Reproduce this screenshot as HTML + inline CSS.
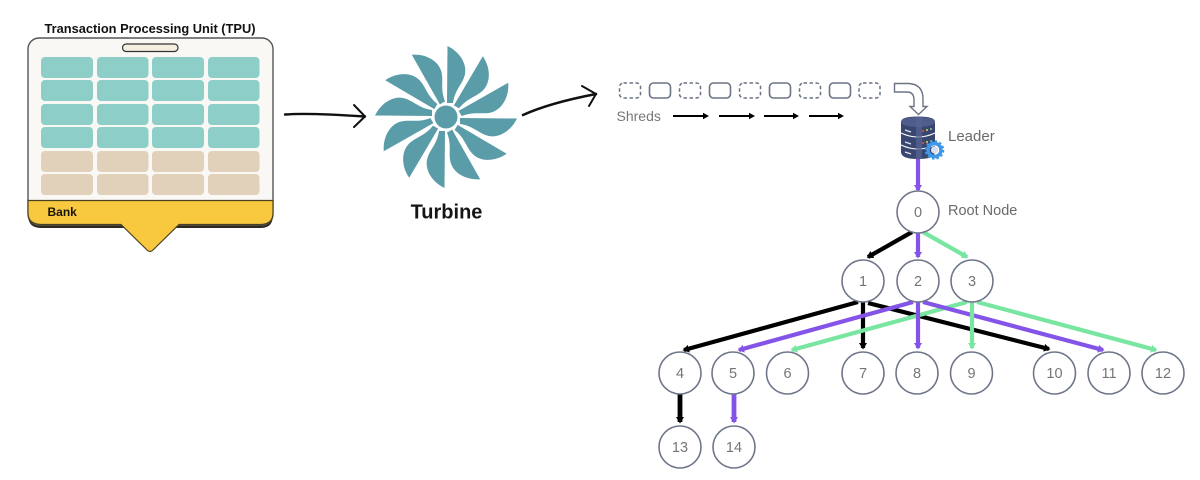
<!DOCTYPE html>
<html>
<head>
<meta charset="utf-8">
<style>
html,body{margin:0;padding:0;background:#fff;width:1200px;height:480px;overflow:hidden}
svg{display:block;filter:blur(.35px)}
text{font-family:"Liberation Sans",sans-serif}
.n{fill:#fff;stroke:#6f768a;stroke-width:1.6}
.t{fill:#757575;font-size:14.5px;text-anchor:middle}
.teal{fill:#8dcfc8}
.tan{fill:#e1d0ba}
.s1{fill:none;stroke:#6b7385;stroke-width:1.5;stroke-dasharray:3.5 2.5}
.s2{fill:none;stroke:#6b7385;stroke-width:1.6}
.bk{stroke:#000;fill:#000}
.pu{stroke:#8454e8;fill:#8454e8}
.gr{stroke:#78e6a0;fill:#78e6a0}
.e{stroke-width:4.200;fill:none}
</style>
</head>
<body>
<svg width="1200" height="480" viewBox="0 0 1200 480" xmlns="http://www.w3.org/2000/svg">
<defs>
<marker id="mb" markerUnits="userSpaceOnUse" markerWidth="10" markerHeight="10" refX="5" refY="4" orient="auto"><path d="M0,0 L6.500,4 L0,8 Z" fill="#000"/></marker>
<marker id="mp" markerUnits="userSpaceOnUse" markerWidth="10" markerHeight="10" refX="5" refY="4" orient="auto"><path d="M0,0 L6.500,4 L0,8 Z" fill="#8454e8"/></marker>
<marker id="mg" markerUnits="userSpaceOnUse" markerWidth="10" markerHeight="10" refX="5" refY="4" orient="auto"><path d="M0,0 L6.500,4 L0,8 Z" fill="#78e6a0"/></marker>
</defs>

<!-- TPU -->
<text x="150" y="33" font-size="12.500" font-weight="bold" text-anchor="middle" textLength="211" lengthAdjust="spacingAndGlyphs" fill="#111">Transaction Processing Unit (TPU)</text>
<path d="M28,215 Q28,228 41,228 L261,228 Q273,228 273,215 L273,205 L28,205 Z" fill="#2e2a20"/>
<rect x="28" y="38" width="245" height="187" rx="11" fill="#faf8f5" stroke="#555" stroke-width="1.4"/>
<path d="M28,200.500 L273,200.500 L273,213 Q273,224 261,224.500 L179,224.500 L153,250 Q150,253 147,250 L121,224.500 L41,224.500 Q28,224 28,213 Z" fill="#f8c93f" stroke="#4a4120" stroke-width="1.2"/>
<rect x="122.500" y="44" width="55.500" height="7.500" rx="3.700" fill="#f6efe0" stroke="#333" stroke-width="1.2"/>
<g class="teal">
<rect x="41" y="57" width="52" height="21" rx="4"/><rect x="97" y="57" width="51.500" height="21" rx="4"/><rect x="152" y="57" width="52" height="21" rx="4"/><rect x="208" y="57" width="51.500" height="21" rx="4"/>
<rect x="41" y="80" width="52" height="21" rx="4"/><rect x="97" y="80" width="51.500" height="21" rx="4"/><rect x="152" y="80" width="52" height="21" rx="4"/><rect x="208" y="80" width="51.500" height="21" rx="4"/>
<rect x="41" y="104" width="52" height="21" rx="4"/><rect x="97" y="104" width="51.500" height="21" rx="4"/><rect x="152" y="104" width="52" height="21" rx="4"/><rect x="208" y="104" width="51.500" height="21" rx="4"/>
<rect x="41" y="127" width="52" height="21" rx="4"/><rect x="97" y="127" width="51.500" height="21" rx="4"/><rect x="152" y="127" width="52" height="21" rx="4"/><rect x="208" y="127" width="51.500" height="21" rx="4"/>
</g>
<g class="tan">
<rect x="41" y="151" width="52" height="21" rx="4"/><rect x="97" y="151" width="51.500" height="21" rx="4"/><rect x="152" y="151" width="52" height="21" rx="4"/><rect x="208" y="151" width="51.500" height="21" rx="4"/>
<rect x="41" y="174" width="52" height="21" rx="4"/><rect x="97" y="174" width="51.500" height="21" rx="4"/><rect x="152" y="174" width="52" height="21" rx="4"/><rect x="208" y="174" width="51.500" height="21" rx="4"/>
</g>
<text x="47.500" y="216" font-size="12" font-weight="bold" fill="#1a1408">Bank</text>

<!-- hand arrows -->
<g fill="none" stroke="#111" stroke-linecap="round" stroke-linejoin="round">
<path d="M285,114.500 C305,113 335,114.500 365,116.500" stroke-width="2.400"/>
<path d="M354,105 L365,116.500 L354,127" stroke-width="2"/>
<path d="M523,115 C545,105 570,99 596,94" stroke-width="2.600"/>
<path d="M582,86 L596,94 L589,106" stroke-width="2"/>
</g>

<!-- Turbine -->
<g transform="translate(446,117)" fill="#5b9ca9">
<circle r="11.500"/>
<path transform="rotate(0)" d="M1,-14 L1.500,-71 C14,-65 21,-53 19,-43 C17,-33 9,-28 7,-14 Z"/>
<path transform="rotate(30)" d="M1,-14 L1.500,-71 C14,-65 21,-53 19,-43 C17,-33 9,-28 7,-14 Z"/>
<path transform="rotate(60)" d="M1,-14 L1.500,-71 C14,-65 21,-53 19,-43 C17,-33 9,-28 7,-14 Z"/>
<path transform="rotate(90)" d="M1,-14 L1.500,-71 C14,-65 21,-53 19,-43 C17,-33 9,-28 7,-14 Z"/>
<path transform="rotate(120)" d="M1,-14 L1.500,-71 C14,-65 21,-53 19,-43 C17,-33 9,-28 7,-14 Z"/>
<path transform="rotate(150)" d="M1,-14 L1.500,-71 C14,-65 21,-53 19,-43 C17,-33 9,-28 7,-14 Z"/>
<path transform="rotate(180)" d="M1,-14 L1.500,-71 C14,-65 21,-53 19,-43 C17,-33 9,-28 7,-14 Z"/>
<path transform="rotate(210)" d="M1,-14 L1.500,-71 C14,-65 21,-53 19,-43 C17,-33 9,-28 7,-14 Z"/>
<path transform="rotate(240)" d="M1,-14 L1.500,-71 C14,-65 21,-53 19,-43 C17,-33 9,-28 7,-14 Z"/>
<path transform="rotate(270)" d="M1,-14 L1.500,-71 C14,-65 21,-53 19,-43 C17,-33 9,-28 7,-14 Z"/>
<path transform="rotate(300)" d="M1,-14 L1.500,-71 C14,-65 21,-53 19,-43 C17,-33 9,-28 7,-14 Z"/>
<path transform="rotate(330)" d="M1,-14 L1.500,-71 C14,-65 21,-53 19,-43 C17,-33 9,-28 7,-14 Z"/>
</g>
<text x="446.500" y="218.500" font-size="20" font-weight="bold" text-anchor="middle" fill="#151515">Turbine</text>

<!-- Shreds -->
<rect class="s1" x="619.500" y="83" width="21" height="15" rx="4"/>
<rect class="s2" x="649.500" y="83" width="21" height="15" rx="4"/>
<rect class="s1" x="679.500" y="83" width="21" height="15" rx="4"/>
<rect class="s2" x="709.500" y="83" width="21" height="15" rx="4"/>
<rect class="s1" x="739.500" y="83" width="21" height="15" rx="4"/>
<rect class="s2" x="769.500" y="83" width="21" height="15" rx="4"/>
<rect class="s1" x="799.500" y="83" width="21" height="15" rx="4"/>
<rect class="s2" x="829.500" y="83" width="21" height="15" rx="4"/>
<rect class="s1" x="859" y="83" width="21" height="15" rx="4"/>
<text x="616.500" y="121" font-size="14" fill="#777">Shreds</text>
<g stroke="#000" stroke-width="2">
<line x1="673" y1="116" x2="705" y2="116"/><path d="M703,112.800 L709,116 L703,119.200 Z" fill="#000" stroke="none"/>
<line x1="719" y1="116" x2="751" y2="116"/><path d="M749,112.800 L755,116 L749,119.200 Z" fill="#000" stroke="none"/>
<line x1="764" y1="116" x2="795" y2="116"/><path d="M793,112.800 L799,116 L793,119.200 Z" fill="#000" stroke="none"/>
<line x1="809" y1="116" x2="840" y2="116"/><path d="M838,112.800 L844,116 L838,119.200 Z" fill="#000" stroke="none"/>
</g>
<path d="M894.500,83.500 L909,83.500 Q923,84.500 923,99 L923,106.500 L927,106.500 L918.500,114.500 L910,106.500 L914,106.500 L914,100 Q914,92 907,92 L894.500,92 Z" fill="#fff" stroke="#6b7385" stroke-width="1.400"/>

<!-- Edges -->
<g>
<line class="pu e" x1="918" y1="156" x2="918" y2="190" marker-end="url(#mp)"/>
<line class="bk e" x1="912" y1="232" x2="868" y2="257" marker-end="url(#mb)"/>
<line class="pu e" x1="918" y1="233" x2="918" y2="257" marker-end="url(#mp)"/>
<line class="gr e" x1="923" y1="232" x2="967" y2="257" marker-end="url(#mg)"/>
<line class="bk e" x1="858" y1="302" x2="684" y2="350" marker-end="url(#mb)"/>
<line class="bk e" x1="863" y1="302" x2="863" y2="348" marker-end="url(#mb)"/>
<line class="bk e" x1="868" y1="303" x2="1049" y2="349" marker-end="url(#mb)"/>
<line class="gr e" x1="967" y1="302" x2="792" y2="350" marker-end="url(#mg)"/>
<line class="pu e" x1="913" y1="302" x2="739" y2="350" marker-end="url(#mp)"/>
<line class="pu e" x1="918" y1="302" x2="918" y2="348" marker-end="url(#mp)"/>
<line class="pu e" x1="923" y1="302" x2="1103" y2="350" marker-end="url(#mp)"/>
<line class="gr e" x1="972" y1="302" x2="972" y2="348" marker-end="url(#mg)"/>
<line class="gr e" x1="977" y1="302" x2="1156" y2="350" marker-end="url(#mg)"/>
<line class="bk" x1="680" y1="394" x2="680" y2="422" stroke-width="4.800" marker-end="url(#mb)"/>
<line class="pu" x1="734" y1="394" x2="734" y2="422" stroke-width="4.800" marker-end="url(#mp)"/>
</g>

<!-- Database -->
<g>
<path d="M901,122 Q901,116.500 918,116.500 Q935,116.500 935,122 L935,152 Q935,159 918,159 Q901,159 901,152 Z" fill="#39466f"/>
<ellipse cx="918" cy="122" rx="17" ry="5" fill="#4e5d8c"/>
<path d="M901,133 Q918,141 935,133 M901,145 Q918,153 935,145" stroke="#fff" stroke-width="1" fill="none"/>
<rect x="916" y="117" width="6" height="42" fill="#566596" opacity=".7"/>
<path d="M905,130 L911,132 M905,142 L911,144 M905,152 L911,154" stroke="#dfe4f2" stroke-width="1.200"/>
<circle cx="923" cy="131" r="1" fill="#e0564d"/><circle cx="927" cy="130" r="1" fill="#e8d64d"/><circle cx="931" cy="129" r="1" fill="#8fd35b"/>
<circle cx="923" cy="143" r="1" fill="#e0564d"/><circle cx="927" cy="142" r="1" fill="#e8d64d"/><circle cx="931" cy="141" r="1" fill="#8fd35b"/>
<circle cx="934.500" cy="150" r="6.500" fill="none" stroke="#3f97e8" stroke-width="3.500"/>
<circle cx="934.500" cy="150" r="8.800" fill="none" stroke="#3f97e8" stroke-width="2" stroke-dasharray="2.500 2.100"/>
<circle cx="934.500" cy="150" r="3.600" fill="#d6dff0"/>
</g>
<text x="948" y="141" font-size="15" fill="#6a6a6a">Leader</text>
<text x="948" y="215" font-size="14.500" fill="#6a6a6a">Root Node</text>

<!-- Nodes -->
<circle class="n" cx="918" cy="212" r="21"/><text class="t" x="918" y="217">0</text>
<circle class="n" cx="863" cy="281" r="21"/><text class="t" x="863" y="286">1</text>
<circle class="n" cx="918" cy="281" r="21"/><text class="t" x="918" y="286">2</text>
<circle class="n" cx="972" cy="281" r="21"/><text class="t" x="972" y="286">3</text>
<circle class="n" cx="680" cy="373" r="21"/><text class="t" x="680" y="378">4</text>
<circle class="n" cx="733" cy="373" r="21"/><text class="t" x="733" y="378">5</text>
<circle class="n" cx="787.500" cy="373" r="21"/><text class="t" x="787.500" y="378">6</text>
<circle class="n" cx="863" cy="373" r="21"/><text class="t" x="863" y="378">7</text>
<circle class="n" cx="917" cy="373" r="21"/><text class="t" x="917" y="378">8</text>
<circle class="n" cx="971.500" cy="373" r="21"/><text class="t" x="971.500" y="378">9</text>
<circle class="n" cx="1054.500" cy="373" r="21"/><text class="t" x="1054.500" y="378">10</text>
<circle class="n" cx="1109" cy="373" r="21"/><text class="t" x="1109" y="378">11</text>
<circle class="n" cx="1163" cy="373" r="21"/><text class="t" x="1163" y="378">12</text>
<circle class="n" cx="680" cy="447" r="21"/><text class="t" x="680" y="452">13</text>
<circle class="n" cx="734" cy="447" r="21"/><text class="t" x="734" y="452">14</text>
</svg>
</body>
</html>
